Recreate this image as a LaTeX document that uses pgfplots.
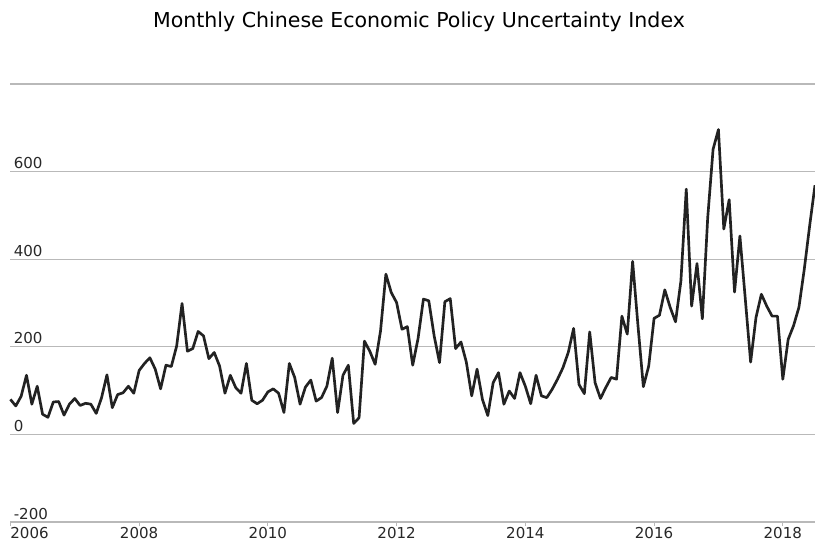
\documentclass[border=0pt]{standalone}
\usepackage{pgfplots}
\pgfplotsset{compat=1.18}
\usepackage{fontspec}
\setmainfont{DejaVu Sans}
\definecolor{gridgray}{RGB}{185,185,185}
\definecolor{linedark}{RGB}{34,34,34}
\definecolor{labelgray}{RGB}{40,40,40}
\begin{document}
\begin{tikzpicture}
\begin{axis}[name=ax, scale only axis, width=603.45pt, height=328.5pt,
 xmin=0, xmax=150, ymin=-200, ymax=800,
 axis line style={draw=none},
 ytick={-200,0,200,400,600,800}, yticklabels={-200,0,200,400,600,},
 ymajorgrids, grid style={line width=1pt, color=gridgray},
 ytick style={draw=none},
 yticklabel style={anchor=base west, xshift=2pt, yshift=2.25pt, font=\fontsize{11.3}{13}\selectfont, text=labelgray},
 xtick={0,24,48,72,96,120,144},
 xticklabels={\rlap{2006},2008,2010,2012,2014,2016,2018},
 xtick pos=lower,
 xtick style={color=gridgray, line width=0.8pt},
 tick align=outside, major tick length=3pt,
 xticklabel style={anchor=base, yshift=-9pt, font=\fontsize{11.3}{13}\selectfont, text=labelgray},
 clip=false]
\addplot[linedark, line width=2pt, line join=round, mark=none] table {
0 80
1 65
2 87
3 135
4 69
5 110
6 46
7 39
8 74
9 75
10 44
11 69
12 82
13 66
14 71
15 69
16 48
17 84
18 136
19 61
20 91
21 95
22 110
23 94
24 146
25 162
26 175
27 149
28 104
29 158
30 155
31 202
32 299
33 190
34 196
35 235
36 225
37 173
38 187
39 156
40 94
41 135
42 107
43 94
44 162
45 78
46 70
47 78
48 97
49 104
50 94
51 50
52 162
53 130
54 69
55 108
56 124
57 76
58 84
59 110
60 174
61 50
62 135
63 158
64 25
65 38
66 213
67 190
68 160
69 236
70 366
71 324
72 301
73 240
74 246
75 158
76 219
77 309
78 305
79 225
80 164
81 303
82 310
83 196
84 211
85 165
86 88
87 149
88 80
89 43
90 118
91 141
92 69
93 99
94 82
95 141
96 110
97 70
98 135
99 88
100 84
101 103
102 126
103 152
104 187
105 242
106 114
107 93
108 234
109 118
110 82
111 107
112 130
113 126
114 270
115 229
116 395
117 248
118 109
119 156
120 265
121 272
122 330
123 290
124 257
125 350
126 560
127 293
128 390
129 264
130 495
131 651
132 696
133 469
134 536
135 325
136 453
137 310
138 165
139 267
140 320
141 293
142 270
143 270
144 126
145 217
146 248
147 290
148 377
149 476
150 569
};
\end{axis}
\node[anchor=base, font=\fontsize{15.4}{18}\selectfont, text=black] at ([xshift=4.7pt, yshift=42pt]ax.north) {Monthly Chinese Economic Policy Uncertainty Index};
\pgfresetboundingbox
\path[use as bounding box] ([xshift=-7.8pt,yshift=-15pt]ax.south west) rectangle ([yshift=63pt]ax.north east);
\end{tikzpicture}
\end{document}
